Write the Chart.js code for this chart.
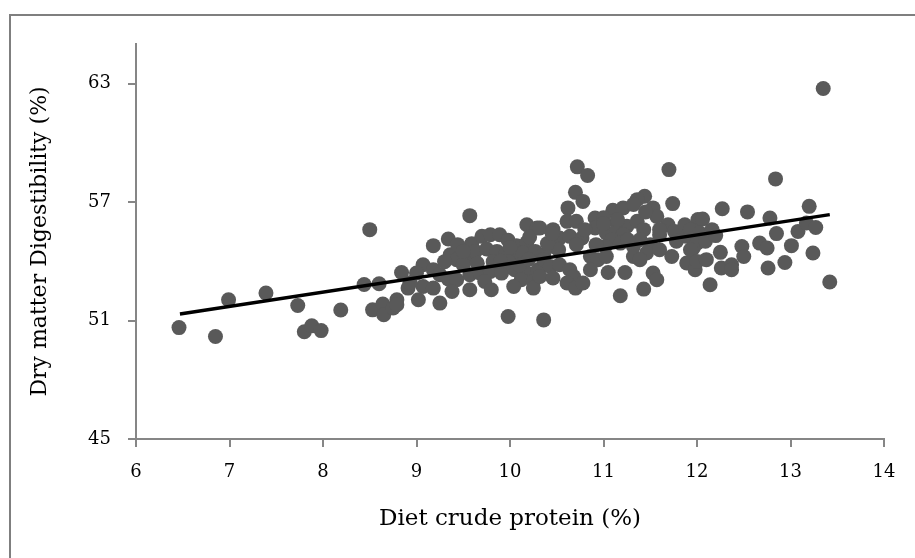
<!DOCTYPE html>
<html>
<head>
<meta charset="utf-8">
<script src="https://cdn.jsdelivr.net/npm/chart.js@4"></script>
<style>
  html, body { margin:0; padding:0; background:#fff; }
  #wrap { position:relative; width:915px; height:558px; overflow:hidden; }
  #frame { position:absolute; left:9px; top:14px; width:1000px; height:1000px;
           border-left:2px solid #7f7f7f; border-top:2px solid #7f7f7f; pointer-events:none; }
  canvas { position:absolute; left:0; top:0; }
</style>
</head>
<body>
<div id="wrap">
  <canvas id="c" width="915" height="558"></canvas>
  <div id="frame"></div>
</div>
<script>
// Diet crude protein (%)
const crudeProtein = [
  6.46,6.85,6.99,7.39,7.73,7.80,7.88,7.98,8.19,8.44,8.60,8.53,8.64,8.65,8.75,8.79,8.84,8.50,
  9.57,10.18,10.29,9.18,9.34,9.59,9.70,9.79,9.89,9.98,10.07,10.18,10.21,9.36,9.43,9.54,9.63,9.75,9.86,9.95,10.05,10.14,10.27,10.36,
  9.07,9.18,9.00,9.25,9.34,9.57,9.68,9.79,9.91,10.05,10.18,10.30,9.43,9.73,10.12,10.25,8.91,9.07,9.18,9.38,9.57,9.80,10.04,10.25,9.02,8.79,9.25,9.98,10.36,
  10.72,10.83,11.70,10.70,10.78,10.62,11.74,11.44,11.36,11.10,11.21,11.32,11.53,11.57,10.61,10.71,10.91,10.91,11.14,11.25,
  11.36,11.43,10.32,10.46,11.69,11.76,11.87,12.01,10.53,10.64,10.77,10.71,10.46,10.52,11.03,11.14,11.21,11.09,11.02,11.18,
  11.32,11.39,11.50,11.46,11.78,11.89,11.96,11.73,11.89,11.98,10.86,10.94,11.03,11.32,11.39,10.36,10.43,10.53,10.32,10.46,
  10.64,10.68,10.61,10.70,10.78,11.05,11.23,11.53,11.57,11.43,11.18,
  12.84,12.27,12.54,12.06,12.78,13.20,11.93,12.03,12.16,12.85,13.08,13.17,13.27,12.00,12.09,11.93,12.25,12.48,12.50,12.67,
  12.75,13.01,13.24,12.00,12.10,12.26,12.37,12.76,12.94,12.14,13.42,13.35,
  8.93,9.50,9.82,9.98,9.44,9.30,10.92,11.26,11.60,11.60,10.86,12.37,
  9.65,9.90,10.10,10.20,9.50,10.00,10.40,10.45,11.00,11.15,11.45,10.80,11.00,11.60,12.20
];
// Dry matter Digestibility (%)
const digestibility = [
  50.64,50.19,52.05,52.39,51.76,50.43,50.73,50.49,51.53,52.82,52.86,51.54,51.83,51.29,51.63,52.05,53.43,55.60,
  56.31,55.85,55.68,54.79,55.13,54.89,55.26,55.34,55.34,55.06,54.79,54.95,55.23,54.33,54.08,54.28,54.50,54.62,54.50,54.33,54.24,54.42,54.50,54.33,
  53.82,53.57,53.40,53.32,53.10,53.32,53.40,53.48,53.40,53.57,53.40,53.57,53.06,52.98,53.06,52.98,52.64,52.72,52.64,52.47,52.56,52.56,52.72,52.64,52.05,51.80,51.88,51.20,51.03,
  58.78,58.34,58.64,57.49,57.03,56.70,56.92,57.29,57.12,56.58,56.70,56.87,56.70,56.27,56.02,56.02,56.19,55.68,55.94,55.77,
  56.02,55.60,55.68,55.60,55.85,55.51,55.85,56.11,55.18,55.26,55.18,54.84,54.75,54.58,55.43,55.51,55.34,55.09,54.75,54.92,
  54.75,55.09,54.84,54.42,55.01,55.26,54.67,54.24,53.91,53.57,54.24,54.08,54.24,54.24,54.08,54.08,53.74,53.82,53.23,53.15,
  53.57,53.23,52.90,52.64,52.90,53.43,53.43,53.40,53.06,52.59,52.25,
  58.17,56.66,56.50,56.14,56.19,56.78,55.60,55.43,55.60,55.40,55.51,55.94,55.71,54.92,55.01,54.58,54.45,54.75,54.24,54.92,
  54.67,54.79,54.42,53.99,54.08,53.66,53.82,53.66,53.94,52.81,52.95,62.75,
  52.91,53.82,53.98,53.98,54.84,53.98,54.84,55.09,55.34,54.58,53.57,53.57,
  53.90,54.00,53.80,54.10,54.50,54.70,54.90,55.40,56.20,56.10,56.50,55.60,55.90,55.60,55.30
];
// Linear trend line end points
const trendX = [6.47, 13.42];
const trendY = [51.33, 56.36];
// Tick labels
const xTicks = [6, 7, 8, 9, 10, 11, 12, 13, 14];
const yTicks = [45, 51, 57, 63];

const scatterData = crudeProtein.map((x, i) => ({ x: x, y: digestibility[i] }));
const trendData = trendX.map((x, i) => ({ x: x, y: trendY[i] }));

const FONT = "'DejaVu Serif', 'Liberation Serif', serif";
const AXIS = '#868686';

new Chart(document.getElementById('c'), {
  type: 'scatter',
  data: {
    datasets: [
      { label: 'Trend', data: trendData, showLine: true, borderColor: '#000', borderWidth: 3.5,
        pointRadius: 0, fill: false, order: 0 },
      { label: 'Data', data: scatterData, backgroundColor: '#595959', borderWidth: 0,
        pointRadius: 7.5, pointHoverRadius: 7.5, order: 1 }
    ]
  },
  options: {
    responsive: false,
    animation: false,
    events: [],
    layout: { padding: { left: 0, top: 44, right: 31, bottom: 0 } },
    plugins: { legend: { display: false }, tooltip: { enabled: false } },
    scales: {
      x: {
        type: 'linear', min: 6, max: 14,
        afterBuildTicks: s => { s.ticks = xTicks.map(v => ({ value: v })); },
        afterFit: s => { s.height = 119; },
        grid: { drawOnChartArea: false, drawTicks: true, tickLength: 8, color: AXIS, lineWidth: 2 },
        border: { display: true, color: AXIS, width: 2 },
        ticks: { color: '#000', font: { family: FONT, size: 18 }, padding: 15, maxRotation: 0, autoSkip: false },
        title: { display: true, text: 'Diet crude protein (%)', color: '#000',
                 font: { family: FONT, size: 23 }, padding: { top: 0, bottom: 25 } }
      },
      y: {
        type: 'linear', min: 45, max: 65,
        afterBuildTicks: s => { s.ticks = yTicks.map(v => ({ value: v })); },
        afterFit: s => { s.width = 136; },
        grid: { drawOnChartArea: false, drawTicks: true, tickLength: 8, color: AXIS, lineWidth: 2 },
        border: { display: true, color: AXIS, width: 2 },
        ticks: { color: '#000', font: { family: FONT, size: 18 }, padding: 17, autoSkip: false },
        title: { display: true, text: 'Dry matter Digestibility (%)', color: '#000',
                 font: { family: FONT, size: 22 }, padding: { top: 27, bottom: 0 } }
      }
    }
  }
});
</script>
</body>
</html>
